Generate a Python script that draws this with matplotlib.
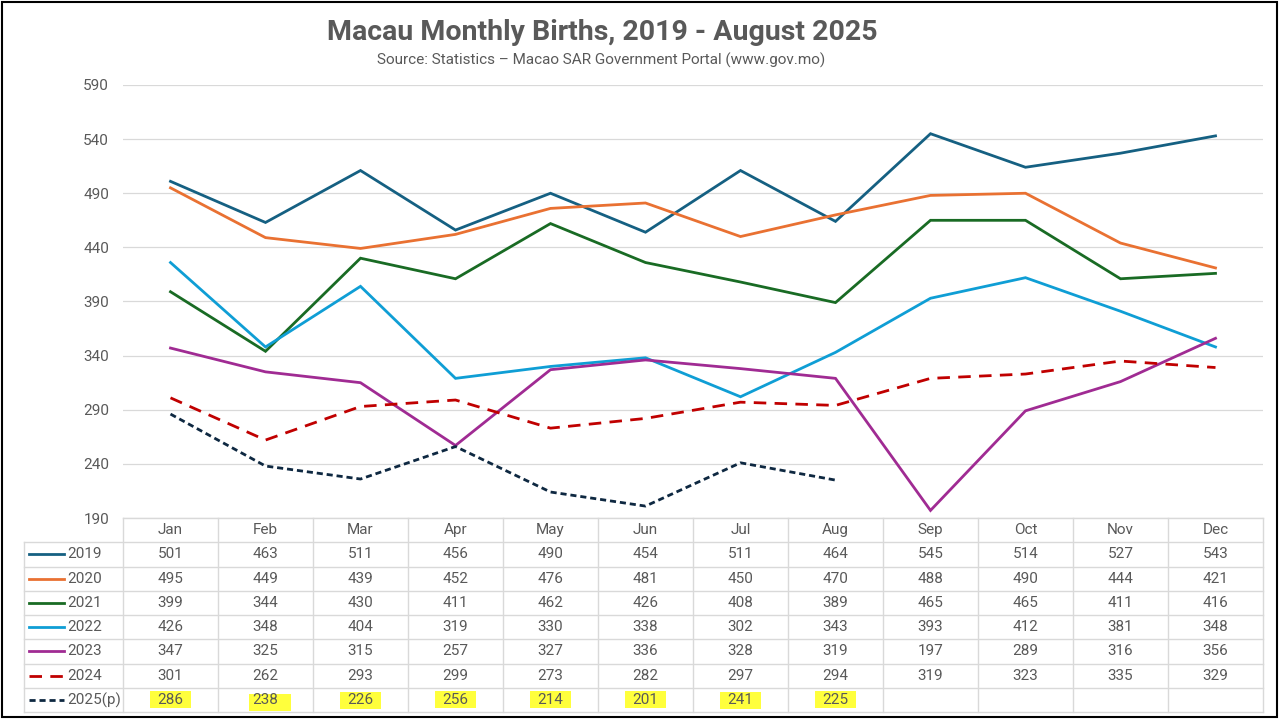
import matplotlib
matplotlib.use("Agg")
import matplotlib.pyplot as plt
from matplotlib.patches import Rectangle
from matplotlib.lines import Line2D

months = ["Jan", "Feb", "Mar", "Apr", "May", "Jun", "Jul", "Aug", "Sep", "Oct", "Nov", "Dec"]
series_names = ["2019", "2020", "2021", "2022", "2023", "2024", "2025(p)"]
v2019 = [501, 463, 511, 456, 490, 454, 511, 464, 545, 514, 527, 543]
v2020 = [495, 449, 439, 452, 476, 481, 450, 470, 488, 490, 444, 421]
v2021 = [399, 344, 430, 411, 462, 426, 408, 389, 465, 465, 411, 416]
v2022 = [426, 348, 404, 319, 330, 338, 302, 343, 393, 412, 381, 348]
v2023 = [347, 325, 315, 257, 327, 336, 328, 319, 197, 289, 316, 356]
v2024 = [301, 262, 293, 299, 273, 282, 297, 294, 319, 323, 335, 329]
v2025 = [286, 238, 226, 256, 214, 201, 241, 225]
yticks = [190, 240, 290, 340, 390, 440, 490, 540, 590]

all_values = [v2019, v2020, v2021, v2022, v2023, v2024, v2025]
colors = ["#156082", "#E97132", "#196B24", "#0F9ED5", "#A02B93", "#C00000", "#0E2841"]
styles = ["-", "-", "-", "-", "-", (0, (4.5, 3)), (0, (2.2, 1.4))]

plt.rcParams['font.family'] = ['Roboto', 'DejaVu Sans']
TXT = "#595959"
GRID = "#D9D9D9"

W, H = 1280, 720
fig = plt.figure(figsize=(12.8, 7.2), dpi=100)
fig.patch.set_facecolor("white")

def fx(px):
    return px / W

def fy(py):
    return 1 - py / H

# main axes
left_px, right_px, top_px, bot_px = 123, 1263, 85, 518
ax = fig.add_axes([fx(left_px), fy(bot_px), fx(right_px - left_px), (bot_px - top_px) / H])
ax.set_xlim(-0.5, 11.5)
ax.set_ylim(190, 590)
ax.set_yticks(yticks)
ax.set_yticklabels([str(t) for t in yticks], color=TXT, fontsize=11)
ax.tick_params(axis='y', length=0, pad=10)
ax.set_xticks([])
for s in ax.spines.values():
    s.set_visible(False)
ax.grid(axis='y', color=GRID, lw=0.9)
ax.set_axisbelow(True)

for vals, c, ls in zip(all_values, colors, styles):
    ax.plot(range(len(vals)), vals, color=c, lw=2.0, linestyle=ls, solid_joinstyle='miter',
            dash_capstyle='butt', clip_on=False)

# table axes
tbl_left, tbl_top, tbl_bot = 24, 518, 712
colw = (right_px - left_px) / 12.0
lab_units = (left_px - tbl_left) / colw
tax = fig.add_axes([fx(tbl_left), fy(tbl_bot), fx(right_px - tbl_left), (tbl_bot - tbl_top) / H])
nrows = len(series_names) + 1
tax.set_xlim(-0.5 - lab_units, 11.5)
tax.set_ylim(nrows, 0)
tax.axis('off')

lc = dict(color=GRID, lw=1.0, clip_on=False)
tax.plot([-0.5, 11.5], [0, 0], **lc)
for r in range(1, nrows + 1):
    tax.plot([-0.5 - lab_units, 11.5], [r, r], **lc)
tax.plot([-0.5 - lab_units, -0.5 - lab_units], [1, nrows], **lc)
for k in range(13):
    tax.plot([-0.5 + k, -0.5 + k], [0, nrows], **lc)

for i, m in enumerate(months):
    tax.text(i, 0.5, m, ha='center', va='center', color=TXT, fontsize=11)

# highlights for 2025 row
hl_off = [(0.0, 0.00), (0.05, 0.12), (0.0, 0.05), (0.0, 0.0), (0.0, 0.0), (0.0, 0.0), (0.0, 0.05), (0.0, 0.0)]
r25 = len(series_names)
for i in range(len(v2025)):
    dx, dy = hl_off[i]
    tax.add_patch(Rectangle((i - 0.22 + dx, r25 + 0.12 + dy), 0.44, 0.72,
                            facecolor="#FFFF3C", edgecolor='none', zorder=0))

for r, (name, vals, c, ls) in enumerate(zip(series_names, all_values, colors, styles), start=1):
    x0 = -0.5 - lab_units
    key_x = [x0 + 5 / colw, x0 + 40 / colw]
    tax.add_line(Line2D(key_x, [r + 0.5, r + 0.5], color=c, lw=2.0, linestyle=ls,
                        dash_capstyle='butt', clip_on=False))
    tax.text(x0 + 43 / colw, r + 0.5, name, ha='left', va='center', color=TXT, fontsize=11)
    for i, v in enumerate(vals):
        tax.text(i, r + 0.5, str(v), ha='center', va='center', color=TXT, fontsize=11, zorder=3)

# titles
fig.text(fx(602), fy(33), "Macau Monthly Births, 2019 - August 2025", ha='center', va='center',
         fontsize=20.5, fontweight='bold', color=TXT)
fig.text(fx(601), fy(60), "Source: Statistics \u2013 Macao SAR Government Portal (www.gov.mo)",
         ha='center', va='center', fontsize=11, color=TXT)

# outer frame
fig.add_artist(Rectangle((fx(2), fy(717)), fx(1275), 715 / H, transform=fig.transFigure,
                         facecolor='none', edgecolor='black', lw=1.5))

fig.savefig("out.png", dpi=100)
